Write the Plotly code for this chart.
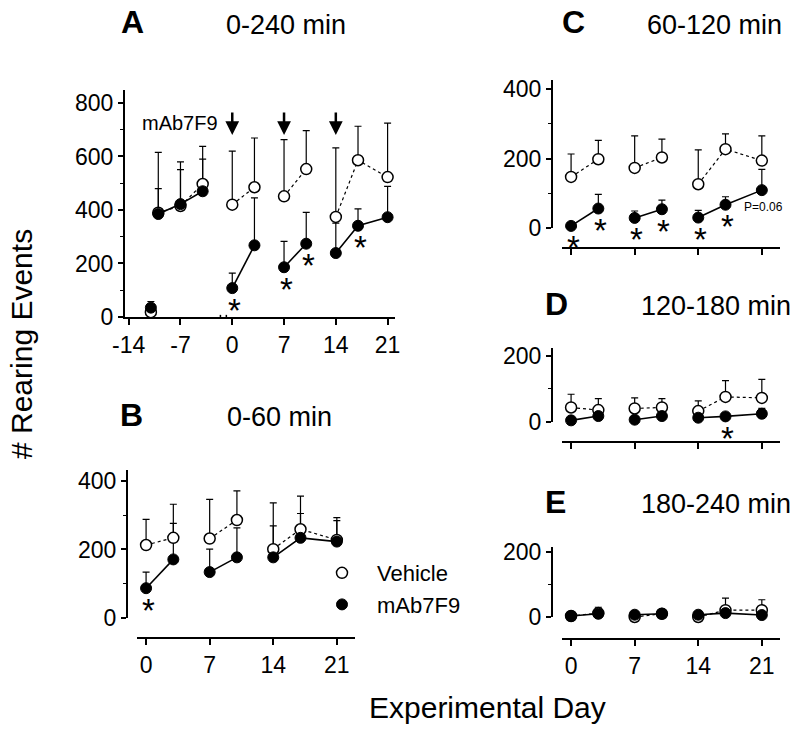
import plotly.graph_objects as go

FONT = "Liberation Sans, Arial, Helvetica, sans-serif"

# ---------------- data ----------------
# Panel A: 0-240 min (includes pre-treatment days)
A_days = [-11, -10, -7, -4, 0, 3, 7, 10, 14, 17, 21]
A_groups = [0, 1, 1, 1, 2, 2, 3, 3, 4, 4, 4]
A_veh = [18, 390, 415, 497, 420, 485, 451, 553, 374, 586, 523]
A_veh_err = [0, 225, 165, 141, 200, 184, 212, 144, 258, 127, 202]
A_mab = [35, 385, 422, 470, 108, 268, 186, 274, 239, 341, 373]
A_mab_err = [23, 95, 129, 120, 56, 177, 97, 117, 112, 63, 115]
A_sig = [0, 7, 10, 17]
A_dose_days = [0, 7, 14]
A_xticks = [-14, -7, 0, 7, 14, 21]
A_xticktext = ["-14", "-7", "0", "7", "14", "21"]

# Panels B-E share treatment days
DAYS = [0, 3, 7, 10, 14, 17, 21]
GROUPS = [0, 0, 1, 1, 2, 2, 2]
DAY_TICKS = [0, 7, 14, 21]

B_veh = [213, 234, 232, 286, 201, 259, 228]
B_veh_err = [75, 98, 114, 85, 135, 97, 65]
B_mab = [87, 171, 134, 177, 177, 234, 223]
B_mab_err = [47, 105, 67, 86, 92, 71, 61]
B_sig = [0]

C_veh = [147, 198, 173, 203, 126, 227, 194]
C_veh_err = [66, 54, 92, 53, 99, 44, 71]
C_mab = [6, 56, 29, 54, 30, 67, 109]
C_mab_err = [0, 41, 20, 26, 21, 23, 60]
C_sig = [0, 3, 7, 10, 14, 17]

D_veh = [44, 36, 41, 44, 33, 76, 73]
D_veh_err = [40, 35, 32, 27, 31, 49, 56]
D_mab = [5, 18, 7, 18, 13, 17, 25]
D_mab_err = [0, 0, 0, 0, 0, 0, 16]
D_sig = [17]

E_veh = [3, 12, 0, 10, 0, 21, 21]
E_veh_err = [0, 0, 0, 0, 0, 37, 32]
E_mab = [3, 10, 7, 10, 7, 12, 6]
E_mab_err = [0, 20, 0, 0, 0, 0, 0]
E_sig = []

fig = go.Figure()


def broken(xs, ys, groups):
    ox, oy, prev = [], [], None
    for x, y, g in zip(xs, ys, groups):
        if prev is not None and g != prev:
            ox.append(None)
            oy.append(None)
        ox.append(x)
        oy.append(y)
        prev = g
    return ox, oy


def err(vals):
    return dict(type="data", symmetric=False, array=vals, arrayminus=[0] * len(vals),
                color="black", thickness=1.2, width=3.5)


def add_panel(days, groups, veh, veh_err, mab, mab_err, sig, xa, ya, legend=False):
    vx, vy = broken(days, veh, groups)
    mx, my = broken(days, mab, groups)
    fig.add_trace(go.Scatter(x=vx, y=vy, mode="lines", xaxis=xa, yaxis=ya,
                             line=dict(color="black", width=1.2, dash="3px,3px"),
                             showlegend=False, hoverinfo="skip", cliponaxis=False))
    fig.add_trace(go.Scatter(x=mx, y=my, mode="lines", xaxis=xa, yaxis=ya,
                             line=dict(color="black", width=1.6),
                             showlegend=False, hoverinfo="skip", cliponaxis=False))
    fig.add_trace(go.Scatter(x=days, y=mab, mode="markers", xaxis=xa, yaxis=ya,
                             marker=dict(size=2, color="rgba(0,0,0,0)"),
                             error_y=err(mab_err), showlegend=False, cliponaxis=False))
    fig.add_trace(go.Scatter(x=days, y=veh, mode="markers", xaxis=xa, yaxis=ya,
                             name="Vehicle", showlegend=legend,
                             marker=dict(size=11, color="white", line=dict(color="black", width=1.5)),
                             error_y=err(veh_err), cliponaxis=False))
    fig.add_trace(go.Scatter(x=days, y=mab, mode="markers", xaxis=xa, yaxis=ya,
                             name="mAb7F9", showlegend=legend,
                             marker=dict(size=11, color="black", line=dict(color="black", width=1)),
                             cliponaxis=False))
    for d in sig:
        v = mab[days.index(d)]
        fig.add_annotation(x=d, y=v, xref=xa, yref=ya, text="*", showarrow=False,
                           font=dict(size=33, family=FONT, color="black"),
                           xanchor="center", yanchor="middle", yshift=-22, xshift=2)


add_panel(A_days, A_groups, A_veh, A_veh_err, A_mab, A_mab_err, A_sig, "x", "y", legend=True)
add_panel(DAYS, GROUPS, B_veh, B_veh_err, B_mab, B_mab_err, B_sig, "x2", "y2")
add_panel(DAYS, GROUPS, C_veh, C_veh_err, C_mab, C_mab_err, C_sig, "x3", "y3")
add_panel(DAYS, GROUPS, D_veh, D_veh_err, D_mab, D_mab_err, D_sig, "x4", "y4")
add_panel(DAYS, GROUPS, E_veh, E_veh_err, E_mab, E_mab_err, E_sig, "x5", "y5")

# dosing arrows in A
for d in A_dose_days:
    fig.add_annotation(x=d, y=680, xref="x", yref="y", ax=0, ay=-24, text="",
                       showarrow=True, arrowhead=2, arrowsize=1.1, arrowwidth=2.5,
                       arrowcolor="black")
fig.add_annotation(x=-7, y=725, xref="x", yref="y", text="mAb7F9", showarrow=False,
                   xanchor="center", yanchor="middle",
                   font=dict(size=20, family=FONT, color="black"))
fig.add_annotation(x=21, y=C_mab[-1], xref="x3", yref="y3", text="P=0.06", showarrow=False,
                   xanchor="center", yanchor="middle",
                   font=dict(size=12, family=FONT, color="black"), yshift=-17, xshift=2)

# axis break marks on A
fig.add_shape(type="rect", x0=-1.6, x1=-0.8, y0=-12, y1=12, xref="x", yref="y",
              fillcolor="white", line=dict(width=0), layer="above")
for xb in (-1.6, -0.8):
    fig.add_shape(type="line", x0=xb, x1=xb, y0=-15, y1=8, xref="x", yref="y",
                  line=dict(color="black", width=1.5), layer="above")

# panel titles
W, H = 800, 735
def ptxt(x, y, text, size, angle=0):
    fig.add_annotation(x=x / W, y=1 - y / H, xref="paper", yref="paper", text=text,
                       showarrow=False, font=dict(size=size, family=FONT, color="black"),
                       xanchor="center", yanchor="middle", textangle=angle)

ptxt(132, 22, "<b>A</b>", 32)
ptxt(286, 25, "0-240 min", 27)
ptxt(131, 415, "<b>B</b>", 32)
ptxt(279, 417, "0-60 min", 27)
ptxt(573, 22, "<b>C</b>", 32)
ptxt(714, 25, "60-120 min", 27)
ptxt(556, 304, "<b>D</b>", 32)
ptxt(716, 306, "120-180 min", 27)
ptxt(555, 502, "<b>E</b>", 32)
ptxt(716, 504, "180-240 min", 27)
ptxt(21, 344, "# Rearing Events", 30, angle=-90)
ptxt(487, 707, "Experimental Day", 30)

tickfont = dict(size=23, family=FONT, color="black")
base = dict(showgrid=False, zeroline=False, showline=True, linecolor="black", linewidth=2,
            ticks="outside", ticklen=5, tickwidth=1.5, tickcolor="black", tickfont=tickfont,
            automargin=False)

def yaxis_cfg(dom, rng, tv, pos=None, anchor=None):
    c = dict(base, domain=dom, range=rng, tickvals=tv,
             minor=dict(ticks="outside", ticklen=3, tickwidth=1, dtick=100, tickcolor="black"))
    if pos is not None:
        c.update(anchor="free", position=pos)
    else:
        c.update(anchor=anchor)
    return c

def xaxis_cfg(pos, labels):
    return dict(base, domain=[562 / W, 780 / W], range=[-1, 23], tickvals=DAY_TICKS,
                anchor="free", position=pos, showticklabels=labels, ticklen=6)

fig.update_layout(
    width=W, height=H, autosize=False,
    margin=dict(l=0, r=0, t=0, b=0, pad=0, autoexpand=False),
    paper_bgcolor="white", plot_bgcolor="rgba(0,0,0,0)",
    font=dict(family=FONT, color="black"),
    hovermode=False,
    xaxis=dict(base, domain=[125 / W, 395 / W], range=[-14.5, 22], anchor="y",
               tickvals=A_xticks, ticktext=A_xticktext, ticklen=6),
    yaxis=yaxis_cfg([1 - 317 / H, 1 - 89.6 / H], [0, 850], [0, 200, 400, 600, 800], anchor="x"),
    xaxis2=dict(base, domain=[137 / W, 355 / W], range=[-1, 23], tickvals=DAY_TICKS,
                anchor="free", position=1 - 638 / H, ticklen=6),
    yaxis2=yaxis_cfg([1 - 618 / H, 1 - 470 / H], [0, 432], [0, 200, 400], pos=127 / W),
    xaxis3=xaxis_cfg(1 - 248 / H, False),
    yaxis3=yaxis_cfg([1 - 228 / H, 1 - 80 / H], [0, 426], [0, 200, 400], pos=552 / W),
    xaxis4=xaxis_cfg(1 - 442 / H, False),
    yaxis4=yaxis_cfg([1 - 422 / H, 1 - 348 / H], [0, 224], [0, 200], pos=552 / W),
    xaxis5=xaxis_cfg(1 - 639 / H, True),
    yaxis5=yaxis_cfg([1 - 617 / H, 1 - 547 / H], [0, 215], [0, 200], pos=552 / W),
    legend=dict(x=307 / W, y=1 - 552 / H, xanchor="left", yanchor="top",
                font=dict(size=22, family=FONT, color="black"),
                bgcolor="rgba(0,0,0,0)", tracegroupgap=0, itemwidth=60),
    showlegend=True,
)

fig.write_html("out.html", config={"displayModeBar": False},
               post_script="document.body.style.margin='0px';")
